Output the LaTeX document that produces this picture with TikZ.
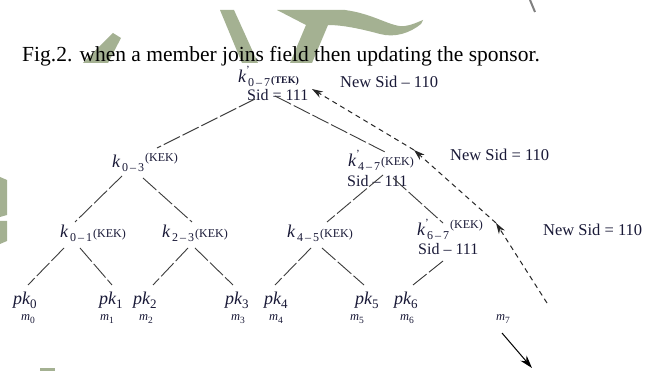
\documentclass[tikz,border=0pt]{standalone}
\usepackage{fontspec}
\setmainfont{Liberation Serif}
\usetikzlibrary{arrows.meta}
\definecolor{ink}{RGB}{25,25,55}
\definecolor{wm}{RGB}{164,177,146}
\definecolor{edgec}{RGB}{60,60,60}
\newcommand\fs[1]{\fontsize{#1}{#1}\selectfont}
\newcommand\kbase[1]{{\fs{18}\itshape k}\hspace{2pt}\raisebox{-4pt}{\fs{12}#1}}
\newcommand\kprime[1]{{\fs{18}\itshape k}\rlap{\raisebox{9pt}{\fs{11}’}}\hspace{2pt}\raisebox{-4pt}{\fs{12}#1}}
\newcommand\tagtxt[2]{\raisebox{#1}{\fs{12}#2}}
\newcommand\pkl[1]{{\fs{18}\itshape pk}\raisebox{-4pt}{\fs{13}#1}}
\newcommand\mlab[1]{{\fs{12.5}\itshape m}\raisebox{-2.5pt}{\fs{9.5}#1}}
\begin{document}
\begin{tikzpicture}[x=1pt,y=-1pt,
  lab/.style={anchor=base west,inner sep=0pt,text=ink},
  sid/.style={anchor=base west,inner sep=0pt,text=ink,font=\fs{16}},
  newsid/.style={anchor=base west,inner sep=0pt,text=ink,font=\fs{16.5}},
  treeline/.style={draw=edgec,line width=0.9pt,dash pattern=on 18pt off 3pt},
  upd/.style={draw=black!85,line width=1pt,dash pattern=on 5pt off 4pt,-{Stealth[length=11pt,width=7pt]}},
  down/.style={draw=black,line width=1pt,-{Stealth[length=13pt,width=8pt]}}]
\fill[white] (0,0) rectangle (665,371);
\useasboundingbox (0,0) rectangle (665,371);
% watermark
\fill[wm] (113,33) -- (121,38) -- (108,63) -- (83,63) -- cycle;
\fill[wm] (220,10) -- (234,10) -- (258,63) -- (242,63) -- cycle;
\fill[wm] (277,10) -- (345,10) .. controls (375,14) and (392,28) .. (405,26)
  .. controls (412,25) and (418,22) .. (423,20) -- (421,24)
  .. controls (410,33) and (395,38) .. (380,34)
  .. controls (365,30) and (345,25) .. (328,25) -- (312,63) -- (290,63) -- (306,25) -- cycle;
\fill[wm] (0,177) -- (7,180) -- (7,215) -- (0,217) -- cycle;
\fill[wm] (0,221) -- (7,221) -- (7,241) -- (0,244) -- cycle;
\fill[wm] (40,368) rectangle (55,371);
\draw[gray,line width=2pt] (530,0) -- (535,12);
% caption
\node[anchor=base west,inner sep=0pt,font=\fs{21.5}] (cap) at (22,62) {Fig.2. when a member joins field then updating the sponsor.};
% tree labels
\node[lab] (r) at (238,83) {\kprime{0\,–\,7}\hspace{1pt}\raisebox{-1pt}{\fs{10}\bfseries (TEK)}};
\node[sid] (rs) at (247,101) {Sid = 111};
\node[newsid] (n0) at (340,88) {New Sid – 110};
\node[lab] (k03) at (112,168) {\kbase{0\,–\,3}\hspace{1pt}\tagtxt{6pt}{(KEK)}};
\node[lab] (k47) at (348,167) {\kprime{4\,–\,7}\hspace{1pt}\tagtxt{1pt}{(KEK)}};
\node[sid] (k47s) at (347,187) {Sid – 111};
\node[newsid] (n1) at (450,161) {New Sid = 110};
\node[lab] (k01) at (60,238) {\kbase{0\,–\,1}\hspace{1pt}\tagtxt{0pt}{(KEK)}};
\node[lab] (k23) at (162,238) {\kbase{2\,–\,3}\hspace{1pt}\tagtxt{0pt}{(KEK)}};
\node[lab] (k45) at (287,238) {\kbase{4\,–\,5}\hspace{1pt}\tagtxt{0pt}{(KEK)}};
\node[lab] (k67) at (417,236) {\kprime{6\,–\,7}\hspace{1pt}\tagtxt{7pt}{(KEK)}};
\node[sid] (k67s) at (418,255) {Sid – 111};
\node[newsid] (n2) at (543,236) {New Sid = 110};
% leaves
\node[lab] (pk0) at (13,305) {\pkl{0}};
\node[lab] (pk1) at (99,305) {\pkl{1}};
\node[lab] (pk2) at (133,305) {\pkl{2}};
\node[lab] (pk3) at (225,305) {\pkl{3}};
\node[lab] (pk4) at (264,305) {\pkl{4}};
\node[lab] (pk5) at (355,305) {\pkl{5}};
\node[lab] (pk6) at (394,305) {\pkl{6}};
\node[lab] (m0) at (21,321) {\mlab{0}};
\node[lab] (m1) at (100,321) {\mlab{1}};
\node[lab] (m2) at (139,321) {\mlab{2}};
\node[lab] (m3) at (231,321) {\mlab{3}};
\node[lab] (m4) at (269,321) {\mlab{4}};
\node[lab] (m5) at (350,321) {\mlab{5}};
\node[lab] (m6) at (400,321) {\mlab{6}};
\node[lab] (m7) at (496,321) {\mlab{7}};
% edge end points
\coordinate (e1a) at (255,99);  \coordinate (e1b) at (157,148);
\coordinate (e2a) at (275,96);  \coordinate (e2b) at (387,153);
\coordinate (e3a) at (122,176); \coordinate (e3b) at (75,222);
\coordinate (e4a) at (143,178); \coordinate (e4b) at (192,222);
\coordinate (e5a) at (383,175); \coordinate (e5b) at (327,222);
\coordinate (e6a) at (393,178); \coordinate (e6b) at (443,223);
\coordinate (e7a) at (64,248);  \coordinate (e7b) at (28,285);
\coordinate (e8a) at (80,248);  \coordinate (e8b) at (112,285);
\coordinate (e9a) at (188,248); \coordinate (e9b) at (153,285);
\coordinate (e10a) at (195,248); \coordinate (e10b) at (233,285);
\coordinate (e11a) at (311,248); \coordinate (e11b) at (275,285);
\coordinate (e12a) at (322,248); \coordinate (e12b) at (364,285);
\coordinate (e13a) at (443,261); \coordinate (e13b) at (413,285);
\foreach \i in {1,...,13} {\draw[treeline] (e\i a) -- (e\i b);}
% update path
\coordinate (t0) at (312,89);
\coordinate (t1) at (414,150);
\coordinate (t2) at (496,223);
\coordinate (t3) at (547,303);
\draw[upd] (t1) -- (t0);
\draw[upd] (t2) -- (t1);
\draw[upd] (t3) -- (t2);
\coordinate (b0) at (502,333);
\coordinate (b1) at (532,368);
\draw[down] (b0) -- (b1);
\end{tikzpicture}
\end{document}
